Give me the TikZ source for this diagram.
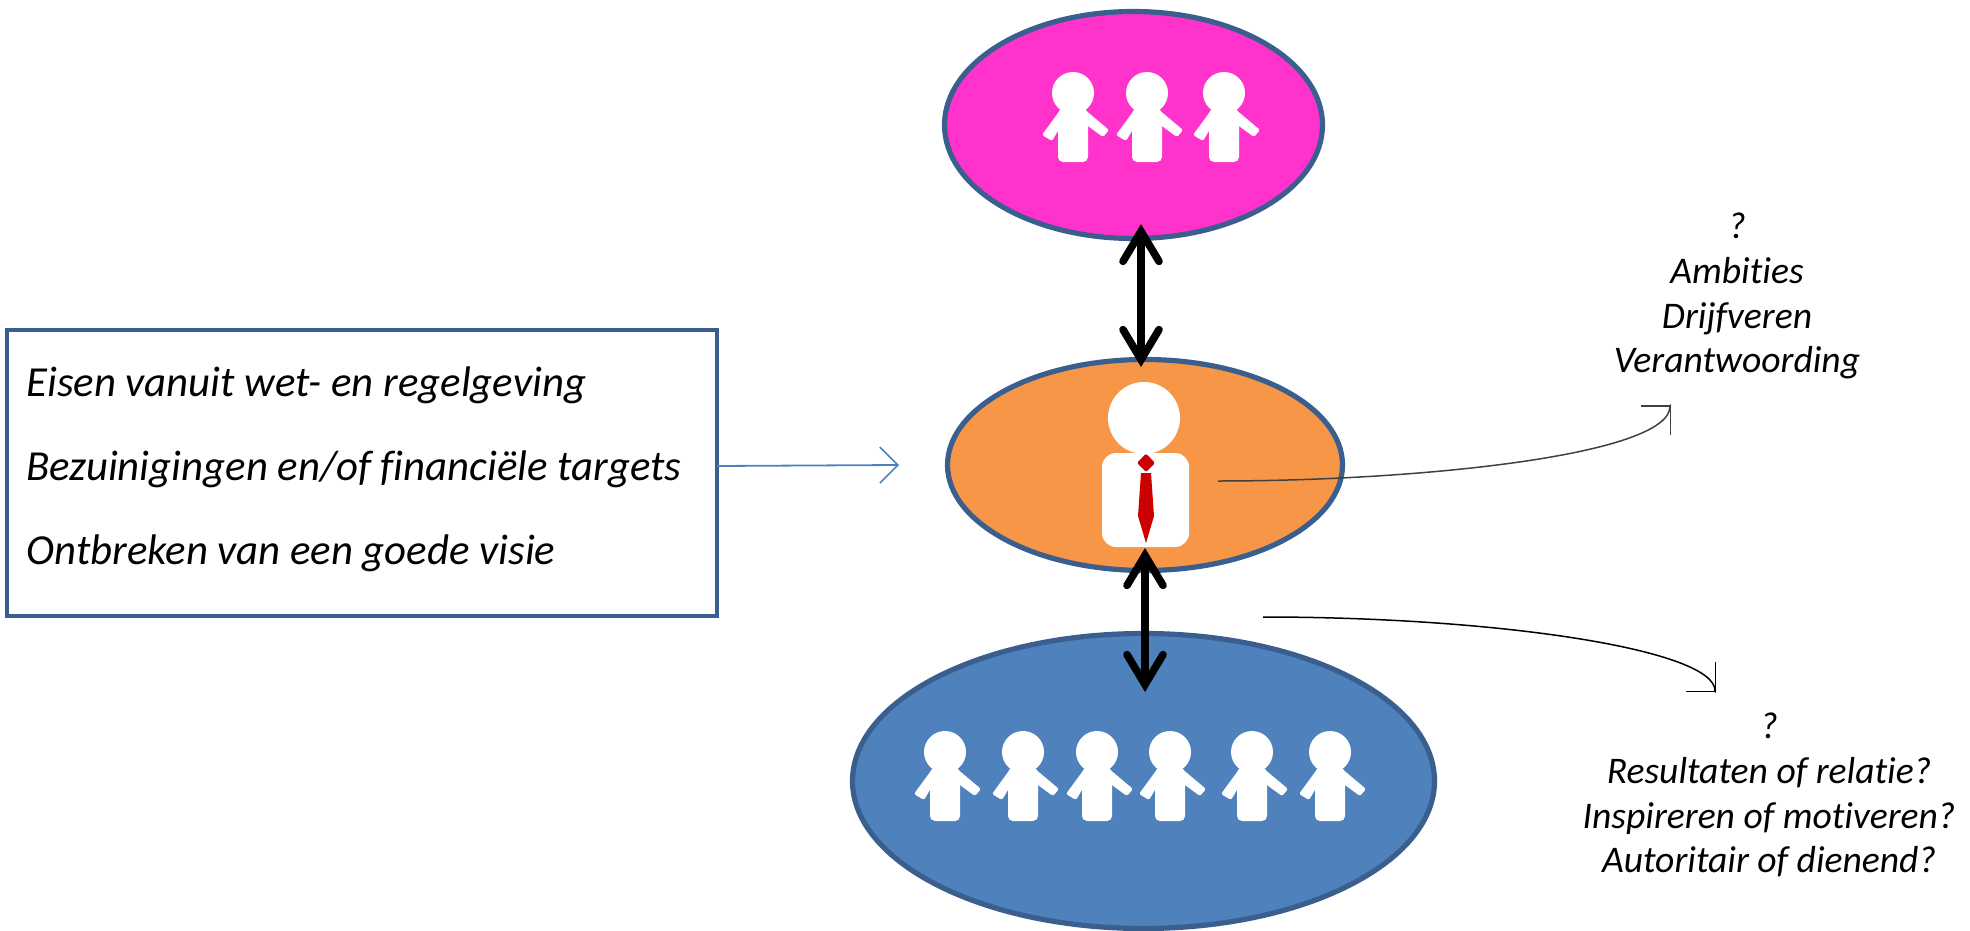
\documentclass[tikz,border=0pt]{standalone}
\usepackage{fontspec}
\setmainfont[Ligatures=NoCommon]{Carlito}
\usetikzlibrary{arrows.meta,shapes.geometric}
\definecolor{edgeblue}{HTML}{3A5F8F}
\definecolor{pinkfill}{HTML}{FF33CC}
\definecolor{orangefill}{HTML}{F79646}
\definecolor{bluefill}{HTML}{4F81BD}
\definecolor{tiered}{HTML}{CC0000}
\tikzset{
  x=0.5pt,y=-0.5pt,
  oval/.style={ellipse,draw=edgeblue,line width=2.6pt,inner sep=0pt,outer sep=0pt},
  bigarrow/.style={line width=3.8pt,{Straight Barb[length=15pt,width=18pt,line width=3.8pt,line cap=round]}-{Straight Barb[length=15pt,width=18pt,line width=3.8pt,line cap=round]}},
  thinarrow/.style={line width=0.75pt,-{Straight Barb[length=10.5pt,width=21pt,line width=0.75pt]}},
  note/.style={font=\fontsize{18.8pt}{22.4pt}\selectfont\itshape,align=center,inner sep=0pt},
  leftline/.style={font=\fontsize{21.4pt}{24pt}\selectfont\itshape,anchor=base west,inner sep=0pt},
}
% person icon: #1 = x, #2 = y of the head centre
\newcommand{\personicon}[2]{%
  \begin{scope}[shift={(#1,#2)}]
    \fill[white] (0,0) circle[radius=10.5pt];
    \fill[white,rounded corners=2.5pt] (-15,16) rectangle (15,69);
    \fill[white,rounded corners=0.8pt] (-12,16) -- (-31,42) -- (-21,48) -- (-8,26) -- cycle;
    \fill[white,rounded corners=0.8pt] (11,16) -- (36,37) -- (30,44) -- (8,28) -- cycle;
  \end{scope}}
\begin{document}
\begin{tikzpicture}
\useasboundingbox (0,0) rectangle (1970,931);
\node[oval,fill=pinkfill,minimum width=189*2*0.5pt,minimum height=113.5*2*0.5pt] (top) at (1133.5,125) {};
\node[oval,fill=orangefill,minimum width=197.5*2*0.5pt,minimum height=105.5*2*0.5pt] (mid) at (1145,465) {};
\node[oval,fill=bluefill,minimum width=291*2*0.5pt,minimum height=147.5*2*0.5pt] (bot) at (1143.5,781) {};
\node[draw=edgeblue,line width=2.4pt,minimum width=710*0.5pt,minimum height=286*0.5pt,inner sep=0pt,outer sep=0pt] (box) at (362,473) {};
% people
\personicon{1073}{93}
\personicon{1147}{93}
\personicon{1224}{93}
\foreach \px in {945,1023,1097,1170,1252,1330}{\personicon{\px}{752}}
% manager
\fill[white] (1144,418) circle[radius=18pt];
\fill[white,rounded corners=7pt] (1102,453) rectangle (1189,547);
\fill[tiered,rounded corners=0.7pt] (1146,453.5) -- (1155,463) -- (1146,472) -- (1137,463) -- cycle;
\fill[tiered] (1141,473) -- (1151,473) -- (1154,516) -- (1146,543) -- (1138,516) -- cycle;
% text
\node[leftline] (t1) at (26,396) {Eisen vanuit wet- en regelgeving};
\node[leftline] (t2) at (26,480) {Bezuinigingen en/of financiële targets};
\node[leftline] (t3) at (26,564) {Ontbreken van een goede visie};
\node[note] (n1) at (1737,296) {?\\Ambities\\Drijfveren\\Verantwoording};
\node[note] (n2) at (1769,795) {?\\Resultaten of relatie?\\Inspireren of motiveren?\\Autoritair of dienend?};
% connectors
\coordinate (a1) at (1141,224); \coordinate (a2) at (1141,367);
\coordinate (b1) at (1145,548); \coordinate (b2) at (1145,692);
\draw[bigarrow] (a1) -- (a2);
\draw[bigarrow] (b1) -- (b2);
\coordinate (c1) at (899,465);
\draw[line width=0.9pt,draw=bluefill,-{Straight Barb[length=9pt,width=18pt,line width=0.8pt]}] (box.east |- 0,466) -- (c1);
\coordinate (d0) at (1218,481); \coordinate (d1) at (1670,406); \coordinate (d2) at (1671,405);
\draw[thinarrow,draw=black!75] (d0) .. controls (1420,481) and (1671,455) .. (d1) -- (d2);
\coordinate (e0) at (1263,617); \coordinate (e1) at (1715,691); \coordinate (e2) at (1716,692);
\draw[thinarrow] (e0) .. controls (1500,617) and (1716,650) .. (e1) -- (e2);
\end{tikzpicture}
\end{document}
